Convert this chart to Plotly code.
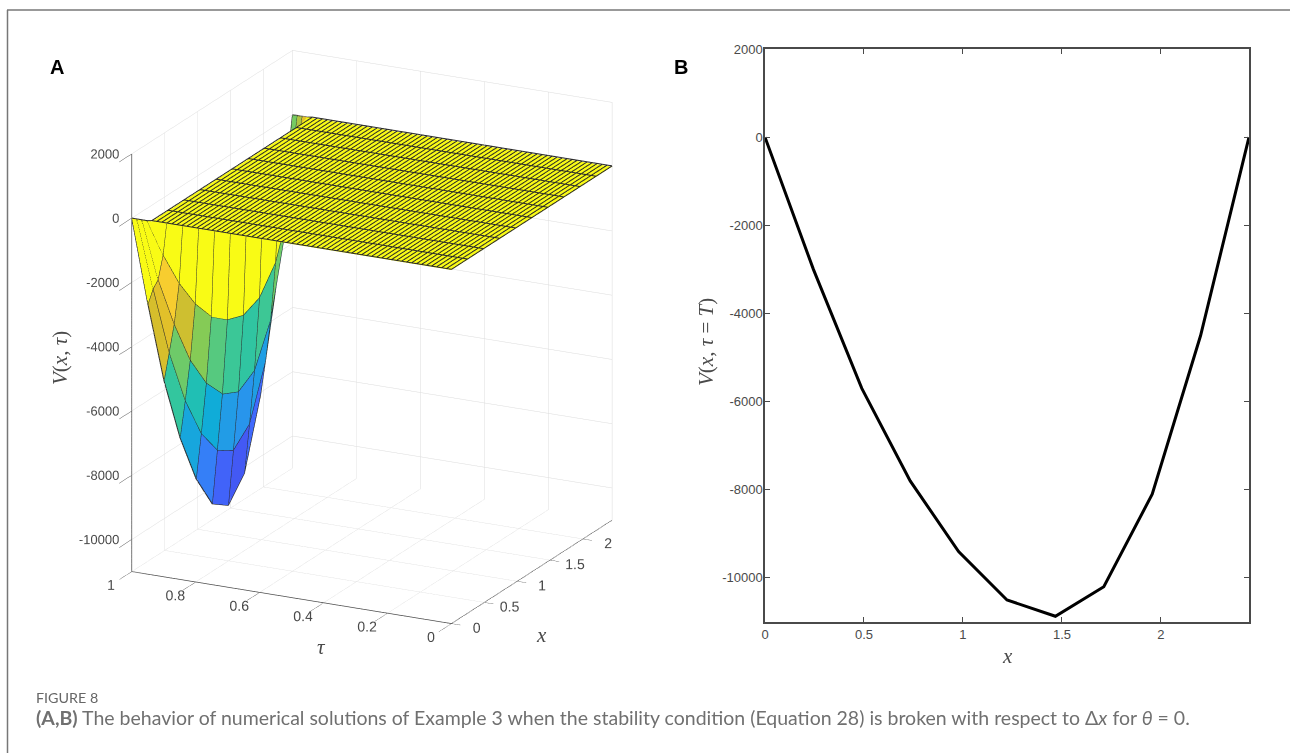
import numpy as np
import plotly.graph_objects as go

W, H = 1290, 753

# ---- data ----
x_grid = [0, 0.2445, 0.489, 0.7335, 0.978, 1.2225, 1.467, 1.7115, 1.956, 2.2005, 2.445]
v_final = [0, -3000, -5700, -7800, -9400, -10500, -10870, -10200, -8100, -4500, 0]
v_row1 = [0, -2500, -4810, -6625, -7970, -8810, -9125, -8630, -7000, -3800, 0]
v_row2 = [0, -2190, -3900, -5340, -6375, -7030, -7280, -6940, -5700, -3000, 0]
v_row3 = [0, -1400, -2600, -3560, -4280, -4690, -4875, -4650, -3880, -2200, 0]
n_tau_steps = 64

x_ticks_2d = [0, 0.5, 1, 1.5, 2]
x_ticklabels_2d = ["0", "0.5", "1", "1.5", "2"]
v_ticks = [-10000, -8000, -6000, -4000, -2000, 0, 2000]
v_ticklabels = ["-10000", "-8000", "-6000", "-4000", "-2000", "0", "2000"]
tau_ticks = [0, 0.2, 0.4, 0.6, 0.8, 1]
tau_ticklabels = ["0", "0.2", "0.4", "0.6", "0.8", "1"]
x_ticks_3d = [0, 0.5, 1, 1.5, 2]
x_ticklabels_3d = ["0", "0.5", "1", "1.5", "2"]

tau_grid = [k / n_tau_steps for k in range(n_tau_steps + 1)]
flat = [0] * len(x_grid)
V = [flat for _ in range(n_tau_steps - 3)] + [v_row3, v_row2, v_row1, v_final]

PARULA = [
    (0.2422, 0.1504, 0.6603), (0.2803, 0.2782, 0.9221), (0.2440, 0.4358, 0.9988),
    (0.1540, 0.5902, 0.9218), (0.0297, 0.7082, 0.8163), (0.1938, 0.7758, 0.6251),
    (0.5044, 0.7993, 0.3480), (0.8634, 0.7406, 0.1596), (0.9892, 0.8136, 0.1885),
    (0.9769, 0.9839, 0.0805),
]


def parula(t):
    t = min(max(t, 0), 1) * (len(PARULA) - 1)
    i = min(int(t), len(PARULA) - 2)
    f = t - i
    c = [(PARULA[i][k] * (1 - f) + PARULA[i + 1][k] * f) * 255 for k in range(3)]
    return f"rgb({c[0]:.0f},{c[1]:.0f},{c[2]:.0f})"


nx, nt = len(x_grid), len(tau_grid)
vmin = min(v_final)
px, py, pz = [], [], []
for j in range(nt):
    for i in range(nx):
        px.append(x_grid[i]); py.append(tau_grid[j]); pz.append(V[j][i])
fi, fj, fk, fc = [], [], [], []
for j in range(nt - 1):
    for i in range(nx - 1):
        a = j * nx + i
        b = a + 1
        c = a + nx
        d = c + 1
        col = parula((V[j][i] - vmin) / (0 - vmin))
        fi += [a, a]; fj += [b, d]; fk += [d, c]; fc += [col, col]

# mesh edges; those on the flat part sit a hair above it so they are not lost in it
LIFT = 25
lifted = [[(V[j][i] + LIFT if j <= n_tau_steps - 4 else V[j][i]) for i in range(nx)] for j in range(nt)]
lx, ly, lz = [], [], []
for j in range(nt):
    lx += x_grid + [None]; ly += [tau_grid[j]] * nx + [None]; lz += lifted[j] + [None]
for i in range(nx):
    lx += [x_grid[i]] * nt + [None]; ly += tau_grid + [None]; lz += [lifted[j][i] for j in range(nt)] + [None]

GREY = "#4a4a4a"
TICKFONT = dict(family="Liberation Sans", size=13, color=GREY)

fig = go.Figure()
fig.add_trace(go.Mesh3d(
    x=px, y=py, z=pz, i=fi, j=fj, k=fk, facecolor=fc, flatshading=True,
    lighting=dict(ambient=1, diffuse=0, specular=0, roughness=1, fresnel=0),
    hoverinfo="skip", showscale=False,
))
fig.add_trace(go.Scatter3d(
    x=lx, y=ly, z=lz, mode="lines", line=dict(color="#2a2a2a", width=2),
    hoverinfo="skip", showlegend=False, connectgaps=False,
))
# V-axis labels: right-aligned against the corner edge of the box at x=0, tau=1
fig.add_trace(go.Scatter3d(
    x=[0] * len(v_ticks), y=[1] * len(v_ticks), z=v_ticks, mode="text",
    text=[t + "\u00a0\u00a0\u00a0\u00a0" for t in v_ticklabels], textposition="middle left",
    textfont=TICKFONT, hoverinfo="skip", showlegend=False,
))
fig.add_trace(go.Scatter(
    x=x_grid, y=v_final, mode="lines", line=dict(color="black", width=3),
    hoverinfo="skip", showlegend=False, xaxis="x", yaxis="y",
))


def ax3(tv, tt, rng, ticklen, showlabels=True):
    return dict(
        range=rng, tickmode="array", tickvals=tv, ticktext=tt, title=dict(text=""),
        showgrid=True, gridcolor="#dcdcdc", gridwidth=1, zeroline=False,
        showline=True, linecolor=GREY, linewidth=1.5, ticks="outside", ticklen=ticklen,
        tickcolor=GREY, tickwidth=1, tickfont=TICKFONT, showbackground=False,
        showspikes=False, tickangle=0, showticklabels=showlabels,
    )


cx, cy = 372, 337
half = 337
fig.update_layout(
    width=W, height=H, margin=dict(l=0, r=0, t=0, b=0, autoexpand=False), autosize=False,
    paper_bgcolor="white", plot_bgcolor="white", showlegend=False,
    scene=dict(
        domain=dict(x=[(cx - half) / W, (cx + half) / W], y=[1 - (cy + half) / H, 1 - (cy - half) / H]),
        xaxis=ax3(x_ticks_3d, x_ticklabels_3d, [0, 2.445], 28),
        yaxis=ax3(tau_ticks, tau_ticklabels, [0, 1], 10),
        zaxis=ax3(v_ticks, v_ticklabels, [-11000, 2000], 12, showlabels=False),
        aspectmode="manual", aspectratio=dict(x=1.0617, y=1.0617, z=1.31),
        camera=dict(
            eye=dict(x=-0.845 * 1.766, y=-0.4248 * 1.766, z=0.3235 * 1.766),
            up=dict(x=0, y=0, z=1), center=dict(x=0, y=0, z=0),
            projection=dict(type="orthographic"),
        ),
    ),
    xaxis=dict(
        domain=[765 / W, 1249 / W], range=[0, 2.445], tickmode="array", tickvals=x_ticks_2d,
        ticktext=x_ticklabels_2d, ticks="inside", ticklen=5, tickcolor=GREY, tickfont=TICKFONT,
        showline=True, mirror="ticks", linecolor=GREY, linewidth=1.5, showgrid=False, zeroline=False,
    ),
    yaxis=dict(
        domain=[1 - 622 / H, 1 - 49 / H], range=[-11000, 2000], tickmode="array", tickvals=v_ticks,
        ticktext=v_ticklabels, ticks="inside", ticklen=5, tickcolor=GREY, tickfont=TICKFONT,
        showline=True, mirror="ticks", linecolor=GREY, linewidth=1.5, showgrid=False, zeroline=False,
        ticklabelstandoff=-2,
    ),
    shapes=[
        dict(type="line", xref="paper", yref="paper", x0=7.5 / W, x1=7.5 / W, y0=0, y1=1 - 10 / H,
             line=dict(color="#777777", width=1.5)),
        dict(type="line", xref="paper", yref="paper", x0=7 / W, x1=1, y0=1 - 10 / H, y1=1 - 10 / H,
             line=dict(color="#777777", width=1.5)),
    ],
)


def note(text, x, y, size, color, family, angle=0, xanchor="center"):
    fig.add_annotation(
        text=text, x=x / W, y=1 - y / H, xref="paper", yref="paper", showarrow=False,
        xanchor=xanchor, yanchor="middle", textangle=angle, font=dict(size=size, color=color, family=family),
    )


note("<b>A</b>", 57, 67, 20, "black", "Liberation Sans")
note("<b>B</b>", 681, 67, 20, "black", "Liberation Sans")
note("<i>V</i>(<i>x</i>, <i>τ</i>)", 60, 358, 21, GREY, "Liberation Serif", angle=-90)
note("<i>V</i>(<i>x</i>, <i>τ</i> = <i>T</i>)", 706, 342, 21, GREY, "Liberation Serif", angle=-90)
note("<i>τ</i>", 321, 647, 21, GREY, "Liberation Serif")
note("<i>x</i>", 541, 635, 21, GREY, "Liberation Serif")
note("<i>x</i>", 1007, 656, 21, GREY, "Liberation Serif")
note("FIGURE 8", 34, 697, 14.3, "#666666", "Lato", xanchor="left")
note("<b>(A,B)</b> The behavior of numerical solutions of Example 3 when the stability condition (Equation 28) "
     "is broken with respect to Δ<i>x</i> for <i>θ</i> = 0.", 34, 717, 19.5, "#707070", "Lato", xanchor="left")

fig.write_html("out.html", config=dict(displayModeBar=False),
               post_script="document.body.style.margin='0';document.body.style.overflow='hidden';")
